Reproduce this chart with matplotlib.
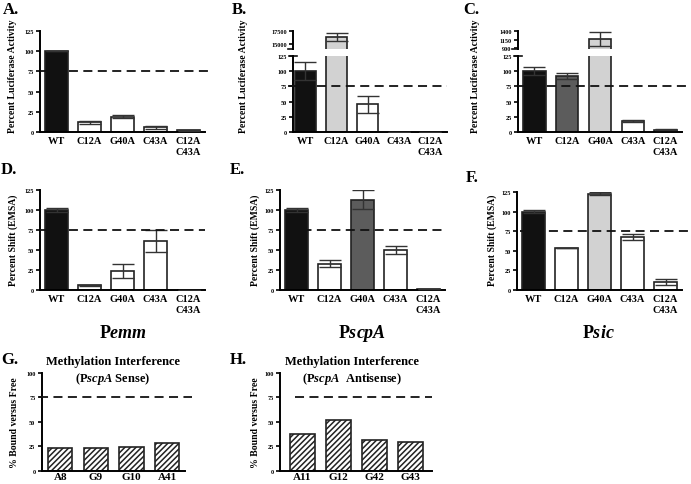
import numpy as np
import matplotlib
matplotlib.use("Agg")
import matplotlib.pyplot as plt

plt.rcParams['font.family'] = ['Liberation Serif', 'DejaVu Serif']
plt.rcParams['font.weight'] = 'bold'
plt.rcParams['mathtext.fontset'] = 'custom'
plt.rcParams['mathtext.rm'] = 'Liberation Serif:bold'
plt.rcParams['mathtext.it'] = 'Liberation Serif:italic:bold'
plt.rcParams['mathtext.bf'] = 'Liberation Serif:bold'
plt.rcParams['hatch.linewidth'] = 1.1

# ---- data ----
mutants = ["WT", "C12A", "G40A", "C43A", "C12A\nC43A"]

lucA = [100, 12, 19, 6, 2]
lucA_err = [0, 1.5, 2, 2, 0.5]
lucB = [100, 16300, 46, 0, 0]
lucB_err = [15, 700, 14, 0, 0]
lucC = [100, 92, 1180, 18, 4]
lucC_err = [7, 5, 210, 1, 0.5]

emsaD = [100, 6, 24, 61, 0]
emsaD_err = [3, 0.5, 9, 14, 0]
emsaE = [100, 33, 113, 50, 1]
emsaE_err = [2, 4, 12, 5, 0]
emsaF = [100, 53, 123, 68, 10]
emsaF_err = [2, 0, 2, 4, 4]

sense_sites = ["A8", "G9", "G10", "A41"]
sense_vals = [23, 23, 24, 28]
anti_sites = ["A11", "G12", "G42", "G43"]
anti_vals = [38, 52, 31, 29]

cutoff = 75

BLK, LG, DG, WH = "#111111", "#d2d2d2", "#5c5c5c", "#ffffff"
colA = [BLK, WH, WH, WH, WH]
colB = [BLK, LG, WH, WH, WH]
colC = [BLK, DG, LG, WH, WH]
colD = [BLK, WH, WH, WH, WH]
colE = [BLK, WH, DG, WH, WH]
colF = [BLK, WH, LG, WH, WH]

W, H = 691, 485
fig = plt.figure(figsize=(W / 100, H / 100), dpi=100)


def px_axes(l, r, t, b):
    return fig.add_axes([l / W, 1 - b / H, (r - l) / W, (b - t) / H])


def style(ax, bottom=True):
    for s in ["top", "right"]:
        ax.spines[s].set_visible(False)
    ax.spines["left"].set_linewidth(1.4)
    ax.spines["bottom"].set_linewidth(1.4)
    if not bottom:
        ax.spines["bottom"].set_visible(False)
    ax.tick_params(axis="y", length=3, width=1.2, labelsize=4.5, pad=1.5)
    ax.tick_params(axis="x", length=0, labelsize=7.5, pad=3)
    for lab in ax.get_yticklabels() + ax.get_xticklabels():
        lab.set_fontweight("bold")


def bars(ax, labels, vals, errs, cols, capsize=8, width=0.68, hatch=None):
    x = np.arange(len(labels))
    ax.bar(x, vals, width=width, color=cols, edgecolor="#222222", linewidth=1.2,
           hatch=hatch, zorder=2)
    if errs is not None:
        ax.errorbar(x, vals, yerr=errs, fmt="none", ecolor="#333333",
                    elinewidth=1.0, capsize=capsize, capthick=1.0, zorder=3)
    return x


def dash(ax, x0, x1):
    ax.axhline(cutoff, xmin=x0, xmax=x1, color="#111111", lw=1.3,
               ls=(0, (5, 3)), clip_on=False, zorder=4)


def simple_panel(box, vals, errs, cols, dx):
    ax = px_axes(*box)
    x = bars(ax, mutants, vals, errs, cols)
    ax.set_xlim(-0.5, 4.5)
    ax.set_ylim(0, 125)
    ax.set_yticks([0, 25, 50, 75, 100, 125])
    ax.set_xticks(x)
    ax.set_xticklabels(mutants)
    style(ax)
    dash(ax, dx[0], dx[1])
    return ax


def broken_panel(low_box, up_box, vals, errs, cols, up_lim, up_ticks, xlim):
    lo = px_axes(*low_box)
    up = px_axes(*up_box)
    for ax in (lo, up):
        bars(ax, mutants, vals, errs, cols)
        ax.set_xlim(*xlim)
    lo.set_ylim(0, 125)
    lo.set_yticks([0, 25, 50, 75, 100, 125])
    lo.set_xticks(np.arange(len(mutants)))
    lo.set_xticklabels(mutants)
    up.set_ylim(*up_lim)
    up.set_yticks(up_ticks)
    up.set_xticks([])
    style(lo)
    style(up, bottom=False)
    # break marks
    up.plot([-0.035, 0.0], [0, 0], transform=up.transAxes, color="#111111",
            lw=1.2, clip_on=False)
    lo.plot([-0.025, 0.025], [1, 1], transform=lo.transAxes, color="#111111",
            lw=1.2, clip_on=False)
    return lo, up


# Row 1: luciferase
simple_panel((40, 205, 32, 133), lucA, lucA_err, colA, (0.0, 1.05))
loB, upB = broken_panel((293, 447, 57, 133), (293, 447, 31.7, 50), lucB, lucB_err,
                        colB, (14100, 17500), [15000, 17500], (-0.4, 4.55))
dash(loB, -0.03, 1.0)
loC, upC = broken_panel((518, 682, 57, 133), (518, 682, 32.3, 49.7), lucC, lucC_err,
                        colC, (880, 1400), [900, 1150, 1400], (-0.5, 4.5))
dash(loC, 0.0, 1.05)

# Row 2: EMSA
simple_panel((40, 205, 191, 291), emsaD, emsaD_err, colD, (0.0, 1.0))
simple_panel((280, 445, 191, 291), emsaE, emsaE_err, colE, (0.05, 1.0))
simple_panel((517, 682, 193, 291), emsaF, emsaF_err, colF, (0.02, 1.05))


# Row 3: methylation interference
def mi_panel(box, sites, vals, xlim, dx):
    ax = px_axes(*box)
    x = bars(ax, sites, vals, None, WH, width=0.68, hatch="//////")
    ax.set_xlim(*xlim)
    ax.set_ylim(0, 100)
    ax.set_yticks([0, 25, 50, 75, 100])
    ax.set_xticks(x)
    ax.set_xticklabels(sites)
    style(ax)
    ax.tick_params(axis="x", labelsize=8, pad=1)
    dash(ax, dx[0], dx[1])
    return ax


mi_panel((41.7, 185, 374, 471.7), sense_sites, sense_vals, (-0.52, 3.5), (-0.02, 1.05))
mi_panel((280, 432, 374, 471.7), anti_sites, anti_vals, (-0.62, 3.6), (0.1, 1.0))


# y labels
def ylab(x, y, s, size):
    fig.text(x / W, 1 - y / H, s, rotation=90, ha="center", va="center",
             fontsize=size, fontweight="bold")


for xx in (13, 243, 475):
    ylab(xx, 76, "Percent Luciferase Activity", 7)
for xx, yy in ((13, 240), (255, 240), (492, 240)):
    ylab(xx, yy, "Percent Shift (EMSA)", 7)
for xx in (15, 255):
    ylab(xx, 423, "% Bound versus Free", 7)

# panel letters
letters = [("A.", 3, 10), ("B.", 232, 10), ("C.", 463, 10), ("D.", 1, 170),
           ("E.", 230, 170), ("F.", 466, 178), ("G.", 1, 360), ("H.", 230, 360)]
for s, xx, yy in letters:
    fig.text(xx / W, 1 - yy / H, s, ha="left", va="center", fontsize=12,
             fontweight="bold")

# promoter labels
for s, xx in ((r"P$emm$", 123), (r"P$scpA$", 362), (r"P$sic$", 598)):
    fig.text(xx / W, 1 - 333 / H, s, ha="center", va="center", fontsize=13)

# methylation titles
for xx, s in ((113, r"(P$scpA$ Sense)"), (352, r"(P$scpA$  Antisense)")):
    fig.text(xx / W, 1 - 362 / H, "Methylation Interference", ha="center",
             va="center", fontsize=9, fontweight="bold")
    fig.text(xx / W, 1 - 379 / H, s, ha="center", va="center", fontsize=9)

fig.savefig("out.png", dpi=100)
